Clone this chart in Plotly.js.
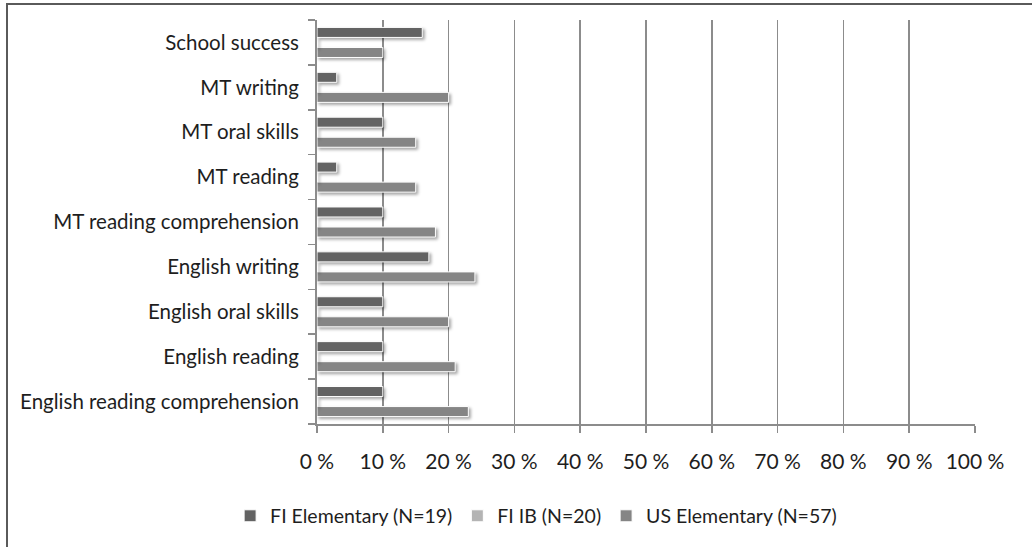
<!DOCTYPE html>
<html>
<head>
<meta charset="utf-8">
<script src="https://cdn.plot.ly/plotly-3.0.1.min.js"></script>
<style>
  html, body { margin: 0; padding: 0; background: #fff; }
  #wrap { position: relative; width: 1032px; height: 547px; overflow: hidden; }
  #chart { position: absolute; left: 0; top: 0; width: 1032px; height: 547px; }
  #frame { position: absolute; left: 6px; top: 3px; width: 1100px; height: 600px;
           border-left: 2px solid #5a5a5a; border-top: 2px solid #5a5a5a; pointer-events: none; }
  #chart .trace.bars .point path { filter: drop-shadow(2px 2px 1.5px rgba(0,0,0,0.35)); }
</style>
</head>
<body>
<div id="wrap">
  <div id="chart"></div>
  <div id="frame"></div>
</div>
<script>
// Skill areas, listed from the bottom of the chart to the top
const categories = [
  "English reading comprehension",
  "English reading",
  "English oral skills",
  "English writing",
  "MT reading comprehension",
  "MT reading",
  "MT oral skills",
  "MT writing",
  "School success"
];

// Share of respondents (%) per group
const fiElementary = [10, 10, 10, 17, 10, 3, 10, 3, 16];
const fiIB         = [0, 0, 0, 0, 0, 0, 0, 0, 0];
const usElementary = [23, 21, 20, 24, 18, 15, 15, 20, 10];

const seriesNames = ["FI Elementary (N=19)", "FI IB (N=20)", "US Elementary (N=57)"];
const seriesColors = ["#636363", "#b4b4b4", "#858585"];

const xTicks = [0, 10, 20, 30, 40, 50, 60, 70, 80, 90, 100];

const FONT = "Lato, 'Open Sans', sans-serif";

function barTrace(name, values, color) {
  return {
    type: "bar",
    orientation: "h",
    name: name,
    y: categories,
    x: values,
    marker: { color: color, line: { color: "#ffffff", width: 1 } },
    hoverinfo: "x+y+name"
  };
}

// Horizontal groups stack upward in trace order, so the top series goes last
const traces = [
  barTrace(seriesNames[2], usElementary, seriesColors[2]),
  barTrace(seriesNames[1], fiIB, seriesColors[1]),
  barTrace(seriesNames[0], fiElementary, seriesColors[0])
];

const layout = {
  width: 1032,
  height: 547,
  margin: { l: 317, r: 57, t: 20, b: 116 },
  paper_bgcolor: "#ffffff",
  plot_bgcolor: "#ffffff",
  barmode: "group",
  bargap: 0.33,
  bargroupgap: 0,
  font: { family: FONT, size: 20, color: "#1e1e1e" },
  showlegend: true,
  legend: {
    orientation: "h",
    traceorder: "reversed",
    x: 0.333,
    xanchor: "center",
    y: -0.228,
    yanchor: "middle",
    font: { family: FONT, size: 19.5, color: "#1e1e1e" },
    bgcolor: "rgba(0,0,0,0)"
  },
  xaxis: {
    range: [0, 100],
    tickvals: xTicks,
    ticktext: xTicks.map(v => v + " %"),
    showgrid: true,
    gridcolor: "#8c8c8c",
    gridwidth: 1.5,
    zeroline: false,
    showline: true,
    linecolor: "#8c8c8c",
    linewidth: 2,
    ticks: "outside",
    ticklen: 7,
    tickwidth: 1.5,
    tickcolor: "#8c8c8c",
    ticklabelstandoff: 11,
    tickfont: { family: FONT, size: 21, color: "#1e1e1e" },
    fixedrange: true
  },
  yaxis: {
    type: "category",
    categoryorder: "array",
    categoryarray: categories,
    range: [-0.5, categories.length - 0.5],
    showgrid: false,
    zeroline: false,
    showline: true,
    linecolor: "#8c8c8c",
    linewidth: 2,
    ticks: "outside",
    tickson: "boundaries",
    ticklen: 7,
    tickwidth: 1.5,
    tickcolor: "#8c8c8c",
    ticklabelstandoff: 12,
    tickfont: { family: FONT, size: 20.5, color: "#1e1e1e" },
    fixedrange: true
  }
};

Plotly.newPlot("chart", traces, layout, { displayModeBar: false, staticPlot: true });
</script>
</body>
</html>
